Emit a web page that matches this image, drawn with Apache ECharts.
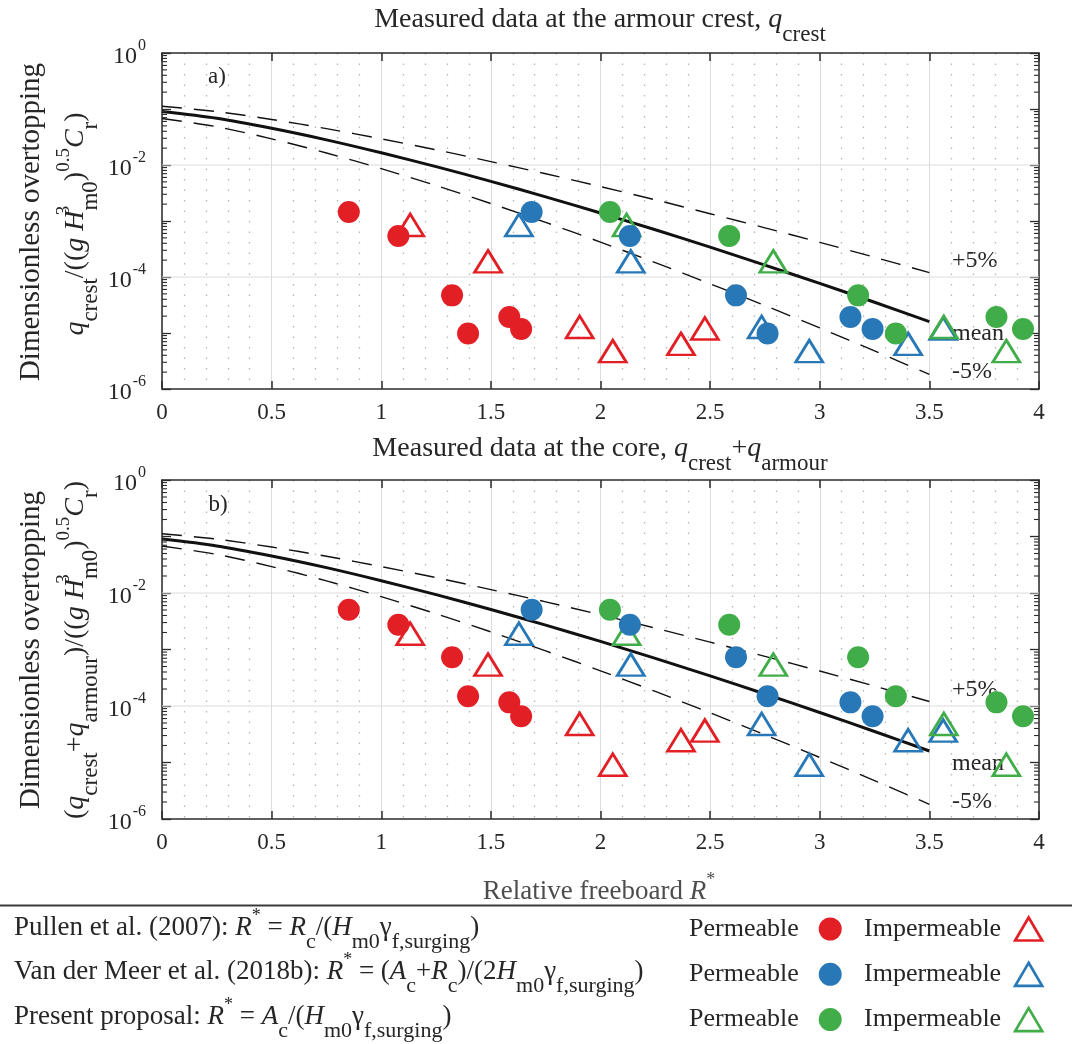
<!DOCTYPE html>
<html>
<head>
<meta charset="utf-8">
<script src="https://cdn.jsdelivr.net/npm/echarts@6/dist/echarts.min.js"></script>
<style>
  html, body { margin: 0; padding: 0; background: #ffffff; }
  #chart { width: 1072px; height: 1044px; }
</style>
</head>
<body>
<div id="chart"></div>
<script>
// Fitted overtopping curves (mean and 5% bounds) against relative freeboard R*
const curveX = [0, 0.25, 0.5, 0.75, 1, 1.25, 1.5, 1.75, 2, 2.25, 2.5, 2.75, 3, 3.25, 3.5];
const curveMean = [0.09, 0.0681, 0.0452, 0.0281, 0.0165, 0.00935, 0.0051, 0.0027, 0.00139, 0.000697, 0.000341, 0.000163, 7.68e-5, 3.54e-5, 1.6e-5];
const curveUpper = [0.112, 0.0899, 0.0651, 0.0446, 0.0293, 0.0187, 0.0115, 0.00698, 0.00412, 0.00239, 0.00135, 0.000756, 0.000416, 0.000225, 0.00012];
const curveLower = [0.0678, 0.0482, 0.0293, 0.0164, 0.0086, 0.00429, 0.00205, 0.000943, 0.00042, 0.000181, 7.57e-5, 3.09e-5, 1.23e-5, 4.78e-6, 1.82e-6];

// R* of every test under the three freeboard definitions
const xPullenPerm  = [0.852, 1.078, 1.323, 1.396, 1.584, 1.638];
const xPullenImp   = [1.132, 1.487, 1.905, 2.056, 2.367, 2.476];
const xVdmPerm     = [1.686, 2.134, 2.618, 2.762, 3.140, 3.241];
const xVdmImp      = [1.628, 2.138, 2.735, 2.952, 3.403, 3.563];
const xPresentPerm = [2.043, 2.587, 3.175, 3.347, 3.806, 3.927];
const xPresentImp  = [2.119, 2.788, 3.566, 3.851];

// Dimensionless discharge measured at the armour crest (panel a)
const qCrestPerm = [1.45e-3, 5.4e-4, 4.7e-5, 9.8e-6, 1.93e-5, 1.18e-5];
const qCrestImp  = [8.5e-4, 1.9e-4, 1.28e-5, 4.75e-6, 6.4e-6, 1.2e-5];
// Dimensionless discharge measured at the core (panel b)
const qCorePerm = [5.05e-3, 2.74e-3, 7.3e-4, 1.49e-4, 1.16e-4, 6.6e-5];
const qCoreImp  = [1.9e-3, 5.4e-4, 4.8e-5, 9.1e-6, 2.48e-5, 3.67e-5];

// Axis ticks
const xTickStep = 0.5;
const yLabelledExponents = [0, -2, -4, -6];
const yGridLines = [1e-2, 1e-4];
const yMinorTicks = [];
for (let d = -6; d < 0; d++) {
  for (let k = 2; k <= 9; k++) yMinorTicks.push(k * Math.pow(10, d));
}

const FONT = 'Liberation Serif';
const TXT = '#262626';
const AXIS = '#2b2b2b';
const RED = '#e31f26';
const BLUE = '#2878b8';
const GREEN = '#40ad48';

// rich text styles with sub/superscripts, for zrender text elements
function rich(size, fill) {
  const base = { fontFamily: FONT, fontSize: size, fill: fill, color: fill, verticalAlign: 'middle' };
  const subSize = Math.round(size * 0.82);
  const supSize = Math.round(size * 0.68);
  return {
    n: base,
    i: Object.assign({}, base, { fontStyle: 'italic' }),
    sub: Object.assign({}, base, { fontSize: subSize, padding: [Math.round(size * 1.05), 0, 0, 0] }),
    sup: Object.assign({}, base, { fontSize: supSize, padding: [0, 0, Math.round(size * 0.85), 0] }),
    supz: Object.assign({}, base, { fontSize: supSize, padding: [0, 0, Math.round(size * 0.85), 0], width: 0 })
  };
}

function textEl(x, y, text, size, opts) {
  opts = opts || {};
  const fill = opts.fill || TXT;
  return {
    type: 'text', x: x, y: y, rotation: opts.rotation || 0, silent: true,
    style: {
      text: text, rich: rich(size, fill), fontFamily: FONT, fontSize: size,
      fill: fill, align: opts.align || 'center', verticalAlign: 'middle'
    }
  };
}

const chart = echarts.init(document.getElementById('chart'), null, { renderer: 'canvas' });

const grids = [
  { left: 162, top: 53, width: 877, height: 336 },
  { left: 162, top: 480, width: 877, height: 339 }
];

function xAxes(g) {
  const line = { show: true, onZero: false, lineStyle: { color: AXIS, width: 1.5 } };
  const tick = { show: true, inside: true, length: 8, lineStyle: { color: AXIS, width: 1.5 } };
  return [
    {
      type: 'value', gridIndex: g, position: 'bottom', min: 0, max: 4, interval: xTickStep,
      axisLine: line, axisTick: tick,
      axisLabel: { fontFamily: FONT, fontSize: 23, color: TXT, margin: 12, formatter: v => String(v) },
      splitLine: { show: true, lineStyle: { color: '#dcdcdc', width: 1 } },
      minorTick: { show: false, splitNumber: 5 },
      minorSplitLine: { show: true, lineStyle: { color: '#b5b5b5', width: 1.3, type: [1.5, 9] } }
    },
    {
      type: 'value', gridIndex: g, position: 'top', min: 0, max: 4, interval: xTickStep,
      axisLine: line, axisTick: tick, axisLabel: { show: false }, splitLine: { show: false }
    }
  ];
}

function yAxes(g) {
  const line = { show: true, onZero: false, lineStyle: { color: AXIS, width: 1.5 } };
  const tick = { show: true, inside: true, length: 9, lineStyle: { color: AXIS, width: 1.3 } };
  return [
    {
      type: 'log', logBase: 10, gridIndex: g, position: 'left', min: 1e-6, max: 1,
      axisLine: line, axisTick: tick,
      axisLabel: {
        margin: 16,
        formatter: v => {
          const e = Math.round(Math.log10(v));
          return yLabelledExponents.indexOf(e) >= 0 ? '{b|10}{s|' + e + '}' : '';
        },
        rich: {
          b: { fontFamily: FONT, fontSize: 24, color: TXT, padding: [7, 0, 0, 0] },
          s: { fontFamily: FONT, fontSize: 16, color: TXT, padding: [0, 0, 14, 1] }
        }
      },
      splitLine: { show: false }
    },
    {
      type: 'log', logBase: 10, gridIndex: g, position: 'right', min: 1e-6, max: 1,
      axisLine: line, axisTick: tick, axisLabel: { show: false }, splitLine: { show: false }
    }
  ];
}

function panelSeries(p, qPerm, qImp) {
  const xi = p * 2, yi = p * 2;
  const out = [];
  // solid grid lines at the labelled decades
  out.push({
    type: 'custom', xAxisIndex: xi, yAxisIndex: yi, z: 1, silent: true, clip: false,
    data: yGridLines.map(v => [0, v]),
    renderItem: (params, api) => {
      const pt = api.coord([0, api.value(1)]);
      const cs = params.coordSys;
      return { type: 'line', shape: { x1: cs.x, y1: pt[1], x2: cs.x + cs.width, y2: pt[1] },
               style: { stroke: '#dcdcdc', lineWidth: 1 } };
    }
  });
  // minor log ticks on both vertical edges
  out.push({
    type: 'custom', xAxisIndex: xi, yAxisIndex: yi, z: 5, silent: true, clip: false,
    data: yMinorTicks.map(v => [0, v]),
    renderItem: (params, api) => {
      const pt = api.coord([0, api.value(1)]);
      const cs = params.coordSys;
      const st = { stroke: AXIS, lineWidth: 1.1 };
      return { type: 'group', children: [
        { type: 'line', shape: { x1: cs.x, y1: pt[1], x2: cs.x + 5, y2: pt[1] }, style: st },
        { type: 'line', shape: { x1: cs.x + cs.width - 5, y1: pt[1], x2: cs.x + cs.width, y2: pt[1] }, style: st }
      ] };
    }
  });
  const curve = (name, arr, style) => ({
    type: 'line', name: name, xAxisIndex: xi, yAxisIndex: yi, z: 2, silent: true,
    symbol: 'none', showSymbol: false, smooth: 0.3,
    data: curveX.map((x, i) => [x, arr[i]]), lineStyle: style
  });
  out.push(curve('+5%', curveUpper, { color: '#111', width: 1.4, type: [20, 12] }));
  out.push(curve('-5%', curveLower, { color: '#111', width: 1.4, type: [20, 12] }));
  out.push(curve('mean', curveMean, { color: '#111', width: 3 }));

  const tri = (name, xs, color) => ({
    type: 'scatter', name: name, xAxisIndex: xi, yAxisIndex: yi, z: 3, silent: true,
    symbol: 'triangle', symbolSize: [27, 22],
    itemStyle: { color: 'rgba(0,0,0,0)', borderColor: color, borderWidth: 2.7, opacity: 1 },
    data: xs.map((x, i) => [x, qImp[i]])
  });
  const dot = (name, xs, color) => ({
    type: 'scatter', name: name, xAxisIndex: xi, yAxisIndex: yi, z: 4, silent: true,
    symbol: 'circle', symbolSize: 22, itemStyle: { color: color, opacity: 1 },
    data: xs.map((x, i) => [x, qPerm[i]])
  });
  out.push(tri('Pullen imp', xPullenImp, RED));
  out.push(tri('VdM imp', xVdmImp, BLUE));
  out.push(tri('Present imp', xPresentImp, GREEN));
  out.push(dot('Pullen perm', xPullenPerm, RED));
  out.push(dot('VdM perm', xVdmPerm, BLUE));
  out.push(dot('Present perm', xPresentPerm, GREEN));
  return out;
}

// one legend entry per component so that each sits in its own table cell
const legendRows = [['Pullen perm', 'Pullen imp', RED], ['VdM perm', 'VdM imp', BLUE], ['Present perm', 'Present imp', GREEN]];
const legends = [];
legendRows.forEach((r, k) => {
  const common = {
    top: 916 + k * 45.3, orient: 'horizontal', align: 'right', padding: 0,
    itemWidth: 27, itemHeight: 23, selectedMode: false,
    formatter: n => (n.endsWith('perm') ? 'Permeable' : 'Impermeable')
  };
  const txt = pad => ({ fontFamily: FONT, fontSize: 26, color: TXT, padding: [0, pad, 0, 0] });
  legends.push(Object.assign({ left: 689, textStyle: txt(13), data: [
    { name: r[0], icon: 'circle', itemStyle: { color: r[2], borderWidth: 0, opacity: 1 } }
  ] }, common));
  legends.push(Object.assign({ left: 864, textStyle: txt(9), data: [
    { name: r[1], icon: 'triangle', itemStyle: { color: 'rgba(0,0,0,0)', borderColor: r[2], borderWidth: 2.7, opacity: 1 } }
  ] }, common));
});

const graphics = [
  textEl(600, 20, '{n|Measured data at the armour crest, }{i|q}{sub|crest}', 28),
  textEl(600, 449, '{n|Measured data at the core, }{i|q}{sub|crest}{n|+}{i|q}{sub|armour}', 28),
  textEl(217, 77, 'a)', 23),
  textEl(218, 505, 'b)', 23),
  textEl(31, 222, 'Dimensionless overtopping', 29, { rotation: Math.PI / 2 }),
  textEl(76, 224, '{i|q}{sub|crest}{n|/((}{i|g H}{supz|3}{sub|m0}{n|)}{sup|0.5}{i|C}{sub|r}{n|)}', 28, { rotation: Math.PI / 2 }),
  textEl(31, 650, 'Dimensionless overtopping', 29, { rotation: Math.PI / 2 }),
  textEl(76, 650, '{n|(}{i|q}{sub|crest}{n|+}{i|q}{sub|armour}{n|)/((}{i|g H}{supz|3}{sub|m0}{n|)}{sup|0.5}{i|C}{sub|r}{n|)}', 28, { rotation: Math.PI / 2 }),
  textEl(952, 261, '+5%', 24, { align: 'left' }),
  textEl(952, 334, 'mean', 24, { align: 'left' }),
  textEl(952, 372, '-5%', 24, { align: 'left' }),
  textEl(952, 690, '+5%', 24, { align: 'left' }),
  textEl(952, 764, 'mean', 24, { align: 'left' }),
  textEl(952, 802, '-5%', 24, { align: 'left' }),
  textEl(599, 892, '{n|Relative freeboard }{i|R}{sup|*}', 27, { fill: '#4d4d4d' }),
  { type: 'line', silent: true, shape: { x1: 0, y1: 905.5, x2: 1072, y2: 905.5 }, style: { stroke: '#3a3a3a', lineWidth: 2 } },
  textEl(14, 928, '{n|Pullen et al. (2007): }{i|R}{sup|*}{n| = }{i|R}{sub|c}{n|/(}{i|H}{sub|m0}{n|γ}{sub|f,surging}{n|)}', 27, { align: 'left' }),
  textEl(14, 972, '{n|Van der Meer et al. (2018b): }{i|R}{sup|*}{n| = (}{i|A}{sub|c}{n|+}{i|R}{sub|c}{n|)/(2}{i|H}{sub|m0}{n|γ}{sub|f,surging}{n|)}', 27, { align: 'left' }),
  textEl(14, 1017, '{n|Present proposal: }{i|R}{sup|*}{n| = }{i|A}{sub|c}{n|/(}{i|H}{sub|m0}{n|γ}{sub|f,surging}{n|)}', 27, { align: 'left' })
];

chart.setOption({
  animation: false,
  backgroundColor: '#ffffff',
  grid: grids.map(g => Object.assign({ containLabel: false, outerBoundsMode: 'none' }, g)),
  xAxis: xAxes(0).concat(xAxes(1)),
  yAxis: yAxes(0).concat(yAxes(1)),
  legend: legends,
  series: panelSeries(0, qCrestPerm, qCrestImp).concat(panelSeries(1, qCorePerm, qCoreImp)),
  graphic: graphics
});
</script>
</body>
</html>
